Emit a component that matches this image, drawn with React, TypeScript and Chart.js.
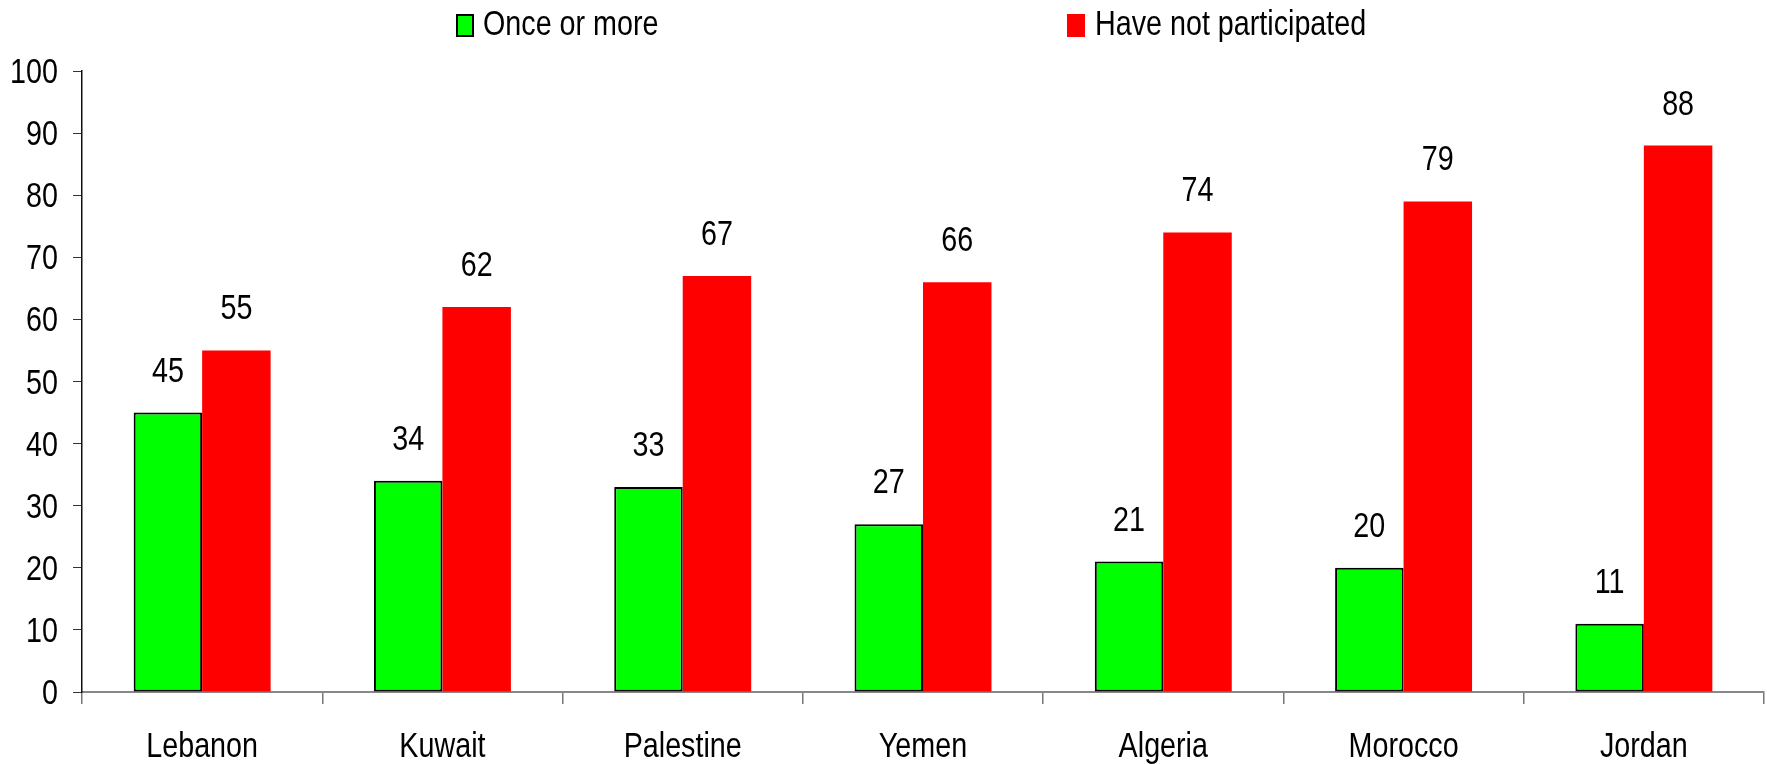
import React, { useEffect, useRef } from 'react';
import { Chart, registerables } from 'chart.js';

Chart.register(...registerables);

const categories = ['Lebanon', 'Kuwait', 'Palestine', 'Yemen', 'Algeria', 'Morocco', 'Jordan'];
const onceOrMore = [45, 34, 33, 27, 21, 20, 11];
const notParticipated = [55, 62, 67, 66, 74, 79, 88];
const seriesNames = ['Once or more', 'Have not participated'];
const seriesColors = ['#00ff00', '#ff0000'];

const FONT = "'Liberation Sans', Arial, sans-serif";
const FONT_SIZE = 35;
const SQUEEZE = 0.82;

function narrowText(ctx: CanvasRenderingContext2D, text: string, x: number, y: number, align: CanvasTextAlign) {
  ctx.save();
  ctx.translate(x, y);
  ctx.scale(SQUEEZE, 1);
  ctx.font = `${FONT_SIZE}px ${FONT}`;
  ctx.fillStyle = '#000';
  ctx.textAlign = align;
  ctx.textBaseline = 'alphabetic';
  ctx.fillText(text, 0, 0);
  ctx.restore();
}

const legendPlugin = {
  id: 'customLegend',
  afterDraw(chart: any) {
    const ctx = chart.ctx;
    ctx.save();
    const items = [
      { box: 456, text: 483 },
      { box: 1067, text: 1095 },
    ];
    items.forEach((it, i) => {
      ctx.fillStyle = seriesColors[i];
      ctx.fillRect(it.box, 14, 18, 23);
      if (i === 0) {
        ctx.strokeStyle = '#000';
        ctx.lineWidth = 2;
        ctx.strokeRect(it.box + 1, 15, 16, 21);
      }
      narrowText(ctx, seriesNames[i], it.text, 35, 'left');
    });
    ctx.restore();
  },
};

const axisLabelPlugin = {
  id: 'axisLabels',
  afterDraw(chart: any) {
    const ctx = chart.ctx;
    const xs = chart.scales.x;
    const ys = chart.scales.y;
    categories.forEach((c, i) => {
      narrowText(ctx, c, xs.getPixelForValue(i), 757, 'center');
    });
    ys.ticks.forEach((t: any) => {
      narrowText(ctx, String(t.value), 58, ys.getPixelForValue(t.value) + 12, 'right');
    });
  },
};

const valueLabelPlugin = {
  id: 'valueLabels',
  afterDatasetsDraw(chart: any) {
    const ctx = chart.ctx;
    chart.data.datasets.forEach((ds: any, di: number) => {
      const meta = chart.getDatasetMeta(di);
      meta.data.forEach((bar: any, i: number) => {
        narrowText(ctx, String(ds.data[i]), bar.x, bar.y - 31, 'center');
      });
    });
  },
};

export default function App() {
  const ref = useRef<HTMLCanvasElement>(null);

  useEffect(() => {
    document.body.style.margin = '0';
    const canvas = ref.current!;
    const chart = new Chart(canvas, {
      type: 'bar',
      data: {
        labels: categories,
        datasets: [
          {
            label: seriesNames[0],
            data: onceOrMore,
            backgroundColor: seriesColors[0],
            borderColor: '#000000',
            borderWidth: 2,
            borderSkipped: false,
          },
          {
            label: seriesNames[1],
            data: notParticipated,
            backgroundColor: seriesColors[1],
            borderWidth: 0,
          },
        ],
      },
      options: {
        animation: false,
        responsive: false,
        devicePixelRatio: 1,
        layout: { padding: { top: 71, right: 3, left: 0, bottom: 0 } },
        datasets: { bar: { categoryPercentage: 0.57, barPercentage: 1 } },
        plugins: {
          legend: { display: false },
          tooltip: { enabled: false },
        },
        scales: {
          x: {
            grid: {
              offset: true,
              drawOnChartArea: false,
              drawTicks: true,
              tickLength: 12,
              color: '#777777',
              lineWidth: 1.5,
            },
            border: { display: true, color: '#888888', width: 2 },
            ticks: { display: false },
            afterFit(scale: any) {
              scale.height = 72;
            },
          },
          y: {
            min: 0,
            max: 100,
            grid: {
              drawOnChartArea: false,
              drawTicks: true,
              tickLength: 9,
              color: '#333333',
            },
            border: { display: true, color: '#111111', width: 1.5 },
            ticks: { display: false, stepSize: 10 },
            afterFit(scale: any) {
              scale.width = 82;
            },
          },
        },
      },
      plugins: [legendPlugin, axisLabelPlugin, valueLabelPlugin],
    });
    return () => chart.destroy();
  }, []);

  return (
    <canvas
      ref={ref}
      width={1767}
      height={764}
      style={{ display: 'block', width: 1767, height: 764 }}
    />
  );
}
